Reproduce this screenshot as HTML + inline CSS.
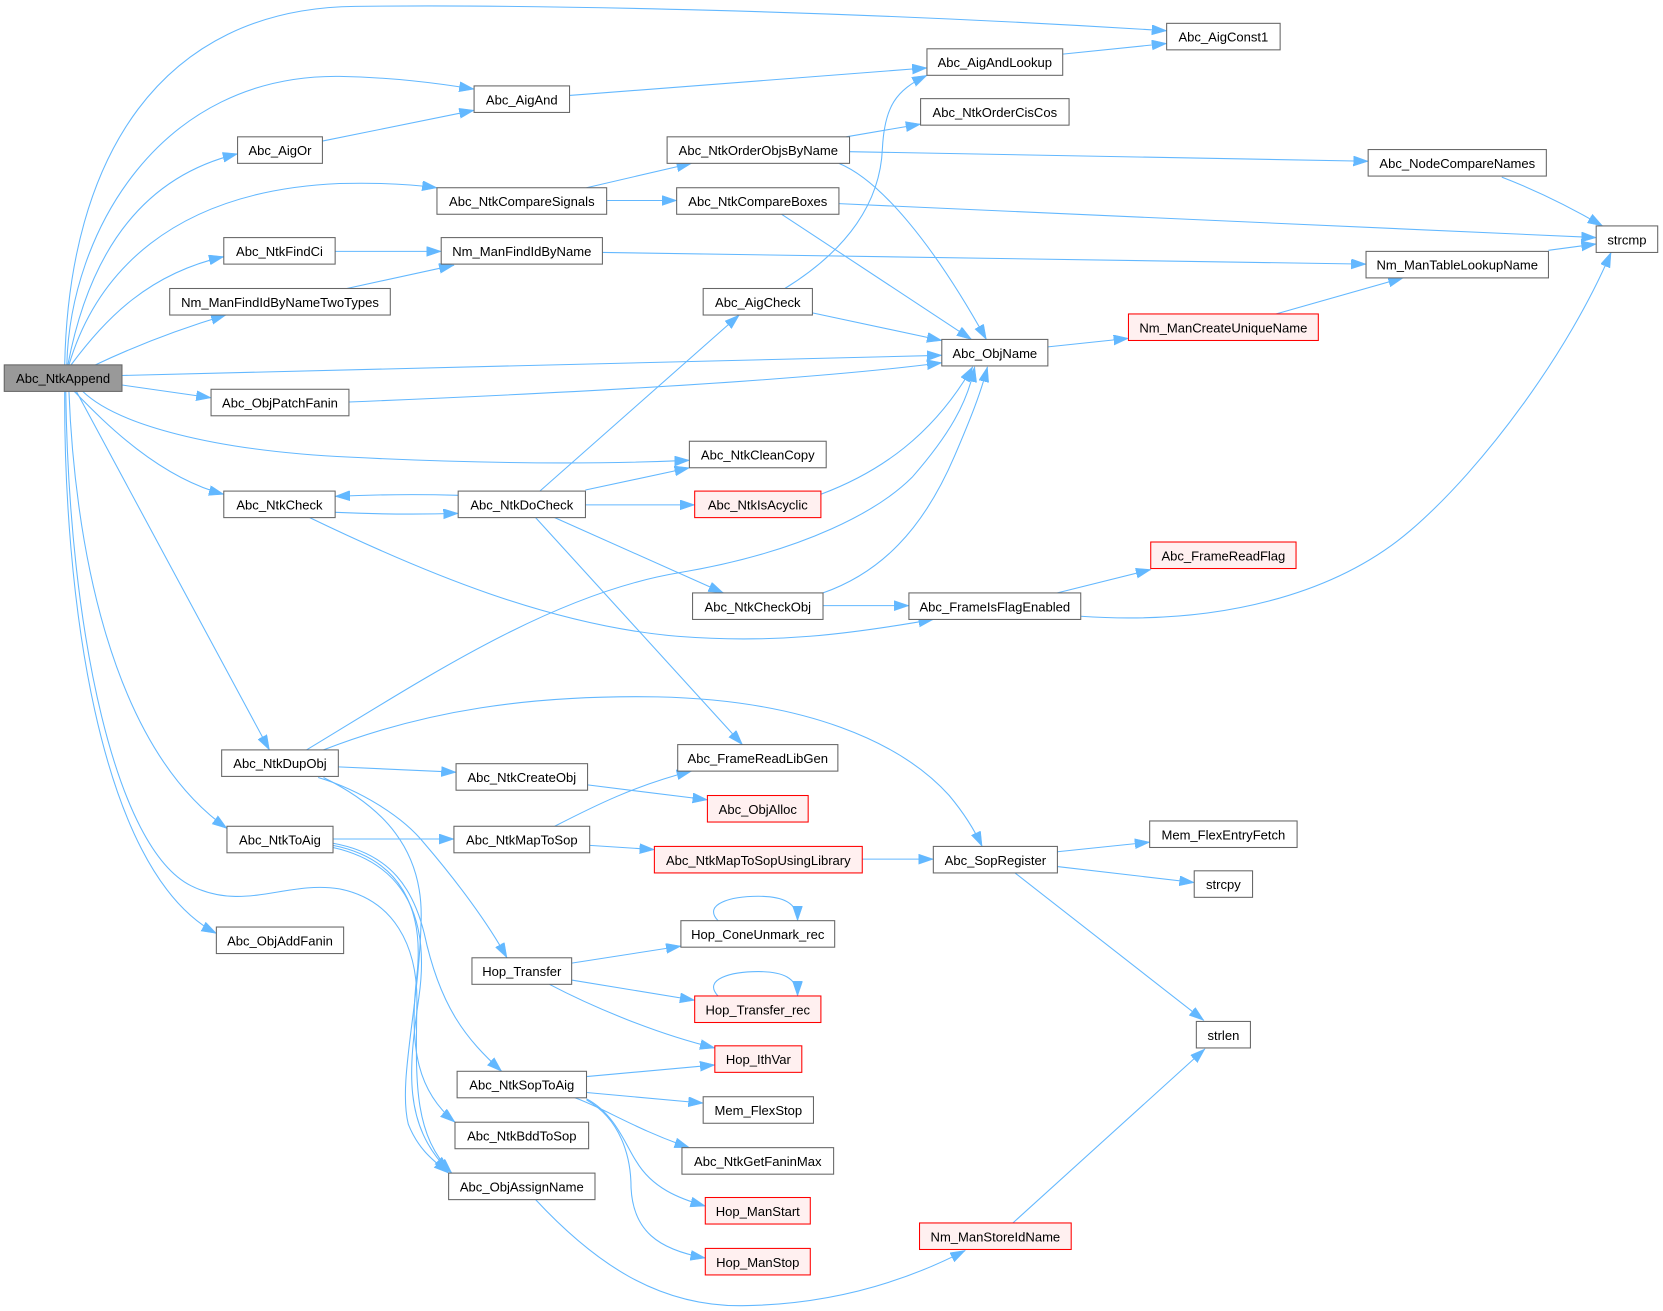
<!DOCTYPE html>
<html><head><meta charset="utf-8"><style>
html,body{margin:0;padding:0;background:#fff;}
svg{display:block;}
.e path{fill:none;stroke:#63b8ff;stroke-width:1;marker-end:url(#a);}
.n rect{fill:#fff;stroke:#666;stroke-width:1;}
.r rect{fill:#fff0f0;stroke:#ff0000;stroke-width:1;}
.root rect{fill:#999;stroke:#666;stroke-width:1;}
text{font-family:"Liberation Sans",Arial,sans-serif;font-size:12.3px;fill:#000;text-anchor:middle;}
</style></head><body>
<svg width="1663" height="1311" viewBox="0 0 1568 1236" preserveAspectRatio="none" xmlns="http://www.w3.org/2000/svg">
<defs><marker id="a" markerUnits="userSpaceOnUse" markerWidth="15" markerHeight="10" refX="14" refY="4.75" orient="auto"><path d="M0,0 L14,4.75 L0,9.5 z" fill="#63b8ff" stroke="#63b8ff" stroke-width="0.5"/></marker></defs>
<g class="e">
<path d="M61,344 C65,150 150,8 335,6 C500,4 800,10 1100,29"/>
<path d="M63,344 C66,220 150,70 320,72 C370,73 410,78 447,84"/>
<path d="M64,344 C80,260 120,170 224,145"/>
<path d="M65,344 C90,260 160,180 320,173 C360,172 390,174 412,177"/>
<path d="M67,344 C100,300 140,258 211,242"/>
<path d="M90,344 C130,325 170,310 213,297"/>
<path d="M115,354 L888,335"/>
<path d="M115,363 L199,375"/>
<path d="M78,369 C110,400 200,425 330,431 C450,437 560,438 650,434"/>
<path d="M70,369 C100,400 150,450 211,466"/>
<path d="M72,369 L254,707"/>
<path d="M65,369 C70,500 100,700 214,781"/>
<path d="M61,369 C60,550 90,820 204,880"/>
<path d="M62,369 C65,600 110,800 180,835 C230,860 270,830 320,838 C370,848 395,890 393,950 C392,1020 390,1070 426,1106"/>
<path d="M305,733 C360,760 400,800 397,870 C395,950 375,1020 385,1060 C395,1085 410,1095 423,1106"/>
<path d="M300,733 C340,745 380,770 400,795 C430,830 460,870 478,903"/>
<path d="M319,723 L430,728"/>
<path d="M289,707 C400,640 520,560 640,540 C760,520 830,480 860,450 C895,410 912,380 919,346"/>
<path d="M305,707 C400,670 500,655 620,657 C760,660 850,700 895,750 C910,768 920,785 926,798"/>
<path d="M314,791 L428,791"/>
<path d="M314,795 C370,805 390,840 400,880 C415,950 440,980 473,1010"/>
<path d="M314,797 C380,810 400,860 393,920 C385,990 395,1030 429,1058"/>
<path d="M314,799 C385,815 405,870 395,940 C385,1010 380,1060 423,1104"/>
<path d="M316,483 C360,485 400,485 432,484"/>
<path d="M432,467 C400,466 360,466 316,468"/>
<path d="M292,488 C400,540 520,590 640,600 C730,607 800,598 880,584"/>
<path d="M509,463 L697,297"/>
<path d="M552,462 L650,441"/>
<path d="M552,476 L655,476"/>
<path d="M523,488 L682,559"/>
<path d="M505,488 L700,702"/>
<path d="M774,466 C830,445 880,410 917,346"/>
<path d="M776,559 C830,540 870,500 900,430 C915,395 925,370 931,346"/>
<path d="M776,571 L857,571"/>
<path d="M997,559 L1085,537"/>
<path d="M1019,581 C1150,590 1260,560 1330,500 C1400,440 1480,330 1519,238"/>
<path d="M988,327 L1064,319"/>
<path d="M1203,296 L1323,262"/>
<path d="M568,238 L1288,249"/>
<path d="M1460,236 L1505,230"/>
<path d="M791,192 L1505,224"/>
<path d="M1416,167 C1450,180 1480,195 1511,213"/>
<path d="M801,143 L1290,152"/>
<path d="M798,129 L868,117"/>
<path d="M791,154 C830,170 880,230 930,320"/>
<path d="M737,202 L916,320"/>
<path d="M766,295 L888,321"/>
<path d="M740,272 C800,235 830,190 832,140 C834,100 845,85 874,71"/>
<path d="M553,177 L652,154"/>
<path d="M572,189 L638,189"/>
<path d="M316,237 L416,237"/>
<path d="M327,272 L428,250"/>
<path d="M304,133 L447,104"/>
<path d="M537,90 L874,64"/>
<path d="M1002,51 L1100,41"/>
<path d="M329,379 C500,372 750,360 888,342"/>
<path d="M523,779 C560,760 600,740 652,727"/>
<path d="M556,797 L617,801"/>
<path d="M813,810 L880,810"/>
<path d="M997,803 L1084,794"/>
<path d="M997,817 L1126,832"/>
<path d="M957,823 L1135,962"/>
<path d="M955,1153 L1136,989"/>
<path d="M505,1131 C560,1190 620,1232 700,1231 C780,1230 850,1210 910,1179"/>
<path d="M539,908 L642,892"/>
<path d="M539,924 L655,943"/>
<path d="M518,928 C560,950 620,975 674,988"/>
<path d="M553,1015 L674,1004"/>
<path d="M553,1030 L663,1040"/>
<path d="M542,1035 C570,1045 600,1065 650,1082"/>
<path d="M553,1036 C580,1050 590,1080 600,1095 C615,1120 640,1130 665,1137"/>
<path d="M553,1037 C585,1055 595,1090 595,1120 C597,1160 620,1178 665,1186"/>
<path d="M554,740 L667,754"/>
<path d="M677,868 C662,852 690,845 715,845 C738,845 752,851 752,868"/>
<path d="M677,939 C662,923 690,916 715,916 C738,916 752,922 752,939"/>
</g>

<g class="root"><rect x="4" y="344" width="111" height="25"/><text x="59.5" y="361.3">Abc_NtkAppend</text></g>

<g class="n">
<rect x="1100" y="22" width="107" height="25"/><text x="1153.5" y="39.3">Abc_AigConst1</text>
<rect x="447" y="81" width="90" height="25"/><text x="492" y="98.3">Abc_AigAnd</text>
<rect x="874" y="46" width="128" height="25"/><text x="938" y="63.3">Abc_AigAndLookup</text>
<rect x="868" y="93" width="140" height="25"/><text x="938" y="110.3">Abc_NtkOrderCisCos</text>
<rect x="224" y="129" width="80" height="25"/><text x="264" y="146.3">Abc_AigOr</text>
<rect x="629" y="129" width="172" height="25"/><text x="715" y="146.3">Abc_NtkOrderObjsByName</text>
<rect x="1290" y="141" width="168" height="25"/><text x="1374" y="158.3">Abc_NodeCompareNames</text>
<rect x="412" y="177" width="160" height="25"/><text x="492" y="194.3">Abc_NtkCompareSignals</text>
<rect x="638" y="177" width="153" height="25"/><text x="714.5" y="194.3">Abc_NtkCompareBoxes</text>
<rect x="1505" y="213" width="58" height="25"/><text x="1534" y="230.3">strcmp</text>
<rect x="211" y="224" width="105" height="25"/><text x="263.5" y="241.3">Abc_NtkFindCi</text>
<rect x="416" y="224" width="152" height="25"/><text x="492" y="241.3">Nm_ManFindIdByName</text>
<rect x="1288" y="237" width="172" height="25"/><text x="1374" y="254.3">Nm_ManTableLookupName</text>
<rect x="160" y="272" width="208" height="25"/><text x="264" y="289.3">Nm_ManFindIdByNameTwoTypes</text>
<rect x="663" y="272" width="103" height="25"/><text x="714.5" y="289.3">Abc_AigCheck</text>
<rect x="888" y="320" width="100" height="25"/><text x="938" y="337.3">Abc_ObjName</text>
<rect x="199" y="367" width="130" height="25"/><text x="264" y="384.3">Abc_ObjPatchFanin</text>
<rect x="650" y="416" width="129" height="25"/><text x="714.5" y="433.3">Abc_NtkCleanCopy</text>
<rect x="211" y="463" width="105" height="25"/><text x="263.5" y="480.3">Abc_NtkCheck</text>
<rect x="432" y="463" width="120" height="25"/><text x="492" y="480.3">Abc_NtkDoCheck</text>
<rect x="653" y="559" width="123" height="25"/><text x="714.5" y="576.3">Abc_NtkCheckObj</text>
<rect x="857" y="559" width="162" height="25"/><text x="938" y="576.3">Abc_FrameIsFlagEnabled</text>
<rect x="209" y="707" width="110" height="25"/><text x="264" y="724.3">Abc_NtkDupObj</text>
<rect x="639" y="702" width="151" height="25"/><text x="714.5" y="719.3">Abc_FrameReadLibGen</text>
<rect x="430" y="720" width="124" height="25"/><text x="492" y="737.3">Abc_NtkCreateObj</text>
<rect x="1084" y="774" width="139" height="25"/><text x="1153.5" y="791.3">Mem_FlexEntryFetch</text>
<rect x="214" y="779" width="100" height="25"/><text x="264" y="796.3">Abc_NtkToAig</text>
<rect x="428" y="779" width="128" height="25"/><text x="492" y="796.3">Abc_NtkMapToSop</text>
<rect x="880" y="798" width="117" height="25"/><text x="938.5" y="815.3">Abc_SopRegister</text>
<rect x="1126" y="821" width="55" height="25"/><text x="1153.5" y="838.3">strcpy</text>
<rect x="642" y="868" width="145" height="25"/><text x="714.5" y="885.3">Hop_ConeUnmark_rec</text>
<rect x="204" y="874" width="120" height="25"/><text x="264" y="891.3">Abc_ObjAddFanin</text>
<rect x="445" y="903" width="94" height="25"/><text x="492" y="920.3">Hop_Transfer</text>
<rect x="1128" y="963" width="51" height="25"/><text x="1153.5" y="980.3">strlen</text>
<rect x="431" y="1010" width="122" height="25"/><text x="492" y="1027.3">Abc_NtkSopToAig</text>
<rect x="663" y="1034" width="104" height="25"/><text x="715" y="1051.3">Mem_FlexStop</text>
<rect x="429" y="1058" width="126" height="25"/><text x="492" y="1075.3">Abc_NtkBddToSop</text>
<rect x="643" y="1082" width="143" height="25"/><text x="714.5" y="1099.3">Abc_NtkGetFaninMax</text>
<rect x="423" y="1106" width="138" height="25"/><text x="492" y="1123.3">Abc_ObjAssignName</text>
</g>

<g class="r">
<rect x="1064" y="296" width="179" height="25"/><text x="1153.5" y="313.3">Nm_ManCreateUniqueName</text>
<rect x="655" y="463" width="119" height="25"/><text x="714.5" y="480.3">Abc_NtkIsAcyclic</text>
<rect x="1085" y="511" width="137" height="25"/><text x="1153.5" y="528.3">Abc_FrameReadFlag</text>
<rect x="667" y="750" width="95" height="25"/><text x="714.5" y="767.3">Abc_ObjAlloc</text>
<rect x="617" y="798" width="196" height="25"/><text x="715" y="815.3">Abc_NtkMapToSopUsingLibrary</text>
<rect x="655" y="939" width="119" height="25"/><text x="714.5" y="956.3">Hop_Transfer_rec</text>
<rect x="674" y="986" width="82" height="25"/><text x="715" y="1003.3">Hop_IthVar</text>
<rect x="665" y="1129" width="99" height="25"/><text x="714.5" y="1146.3">Hop_ManStart</text>
<rect x="867" y="1153" width="143" height="25"/><text x="938.5" y="1170.3">Nm_ManStoreIdName</text>
<rect x="665" y="1177" width="99" height="25"/><text x="714.5" y="1194.3">Hop_ManStop</text>
</g>
</svg>
</body></html>
